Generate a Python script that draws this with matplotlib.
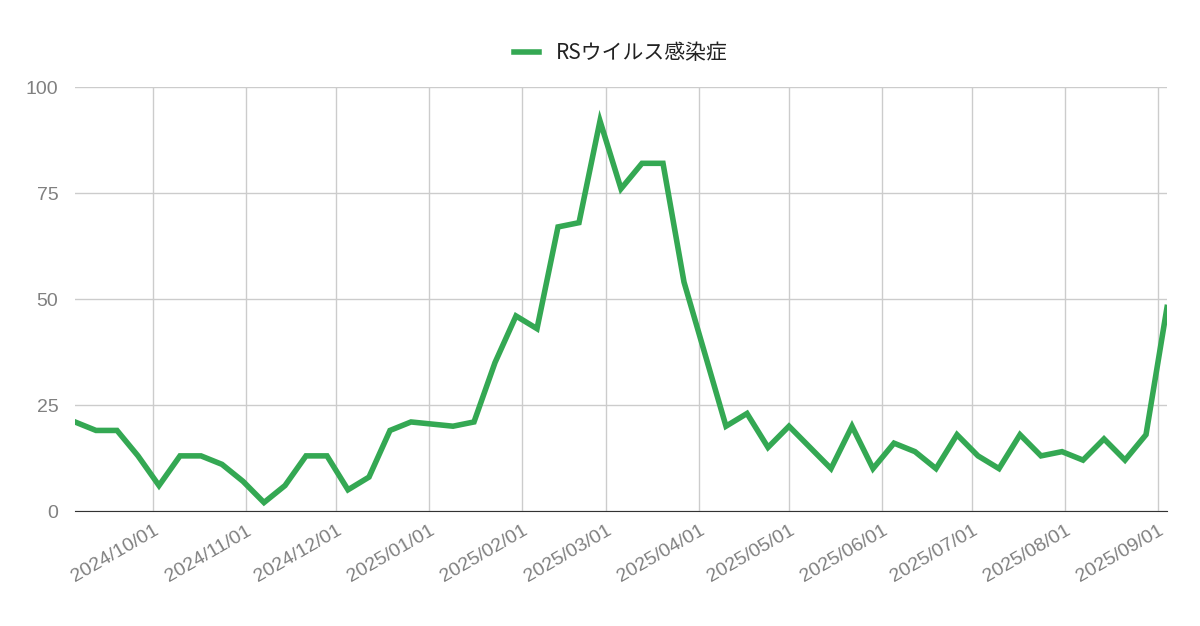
import matplotlib.pyplot as plt
import matplotlib.dates as mdates
import numpy as np
import pandas as pd

plt.rcParams['font.family'] = ['Liberation Sans', 'Noto Sans CJK JP', 'DejaVu Sans']

# weekly counts starting 2024-09-05
start_date = "2024-09-05"
values = [21, 19, 19, 13, 6, 13, 13, 11, 7, 2, 6, 13, 13, 5, 8, 19, 21, 20.5, 20, 21,
          35, 46, 43, 67, 68, 92, 76, 82, 82, 54, 37, 20, 23, 15, 20, 15, 10, 20, 10, 16,
          14, 10, 18, 13, 10, 18, 13, 14, 12, 17, 12, 18, 48]
series_name = "RSウイルス感染症"
month_ticks = pd.date_range("2024-10-01", "2025-09-01", freq="MS")
y_ticks = [0, 25, 50, 75, 100]

dates = pd.date_range(start_date, periods=len(values), freq="7D")

fig = plt.figure(figsize=(12, 6.26), dpi=100)
ax = fig.add_axes([75 / 1200, 1 - 511 / 626, (1167 - 75) / 1200, (511 - 87) / 626])

ax.plot(dates, values, color="#34a853", linewidth=4, label=series_name,
        solid_joinstyle="miter", zorder=3)

ax.set_xlim(dates[0], dates[-1])
ax.set_ylim(0, 100)
ax.set_yticks(y_ticks)
ax.set_xticks(month_ticks)
ax.xaxis.set_major_formatter(mdates.DateFormatter("%Y/%m/%d"))
ax.grid(True, color="#cccccc", linewidth=1)
for s in ["top", "right", "left"]:
    ax.spines[s].set_visible(False)
ax.spines["bottom"].set_color("#333333")
ax.tick_params(axis="both", length=0, labelsize=14, colors="#808080")
ax.tick_params(axis="y", pad=12)
ax.tick_params(axis="x", pad=8)
plt.setp(ax.get_xticklabels(), rotation=30, ha="right", rotation_mode="anchor")

leg = ax.legend(loc="upper center", bbox_to_anchor=(0.5, 1.15), frameon=False,
                fontsize=15, handlelength=1.2,
                prop={"family": ["Noto Sans CJK JP", "DejaVu Sans"], "size": 15})
for t in leg.get_texts():
    t.set_color("#222222")

fig.savefig("out.png", dpi=100)
